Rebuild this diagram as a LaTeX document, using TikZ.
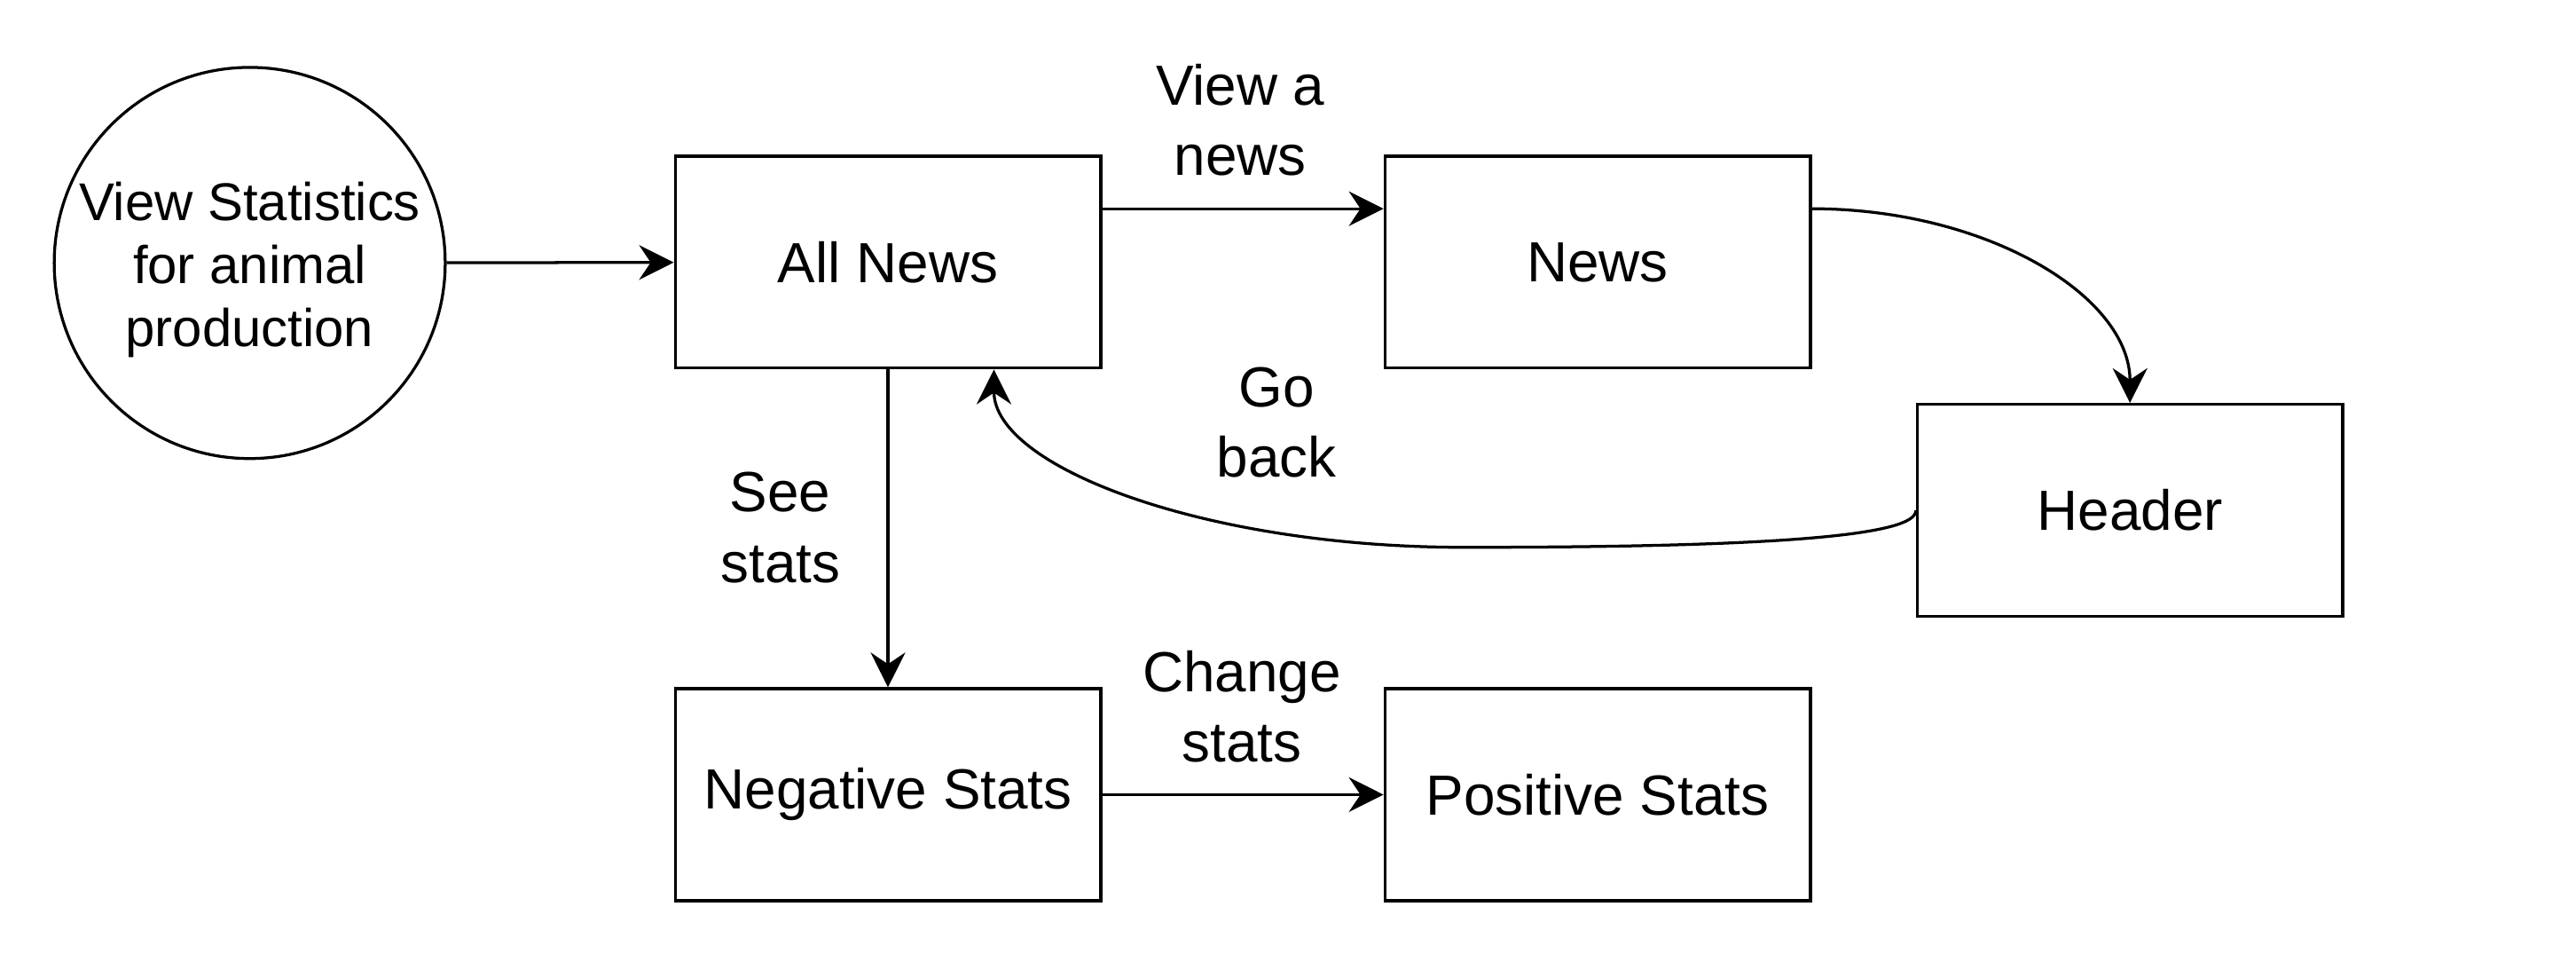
\documentclass[tikz,border=0pt]{standalone}
\usepackage{fontspec}
\setmainfont{Liberation Sans}
\usepackage{tikz}
\usetikzlibrary{positioning,arrows.meta,calc}

\begin{document}
\begin{tikzpicture}[
    every node/.style={font=\fontsize{9.8}{12.2}\selectfont},
    page/.style={draw, line width=0.5pt, minimum width=2.59cm, minimum height=1.29cm, inner sep=0pt},
    flow/.style={-{Stealth[length=6pt,width=6pt,inset=2pt]}, line width=0.5pt}
  ]
    \useasboundingbox (0,0) rectangle (15.68,5.80);
    \node[draw, circle, line width=0.5pt, minimum size=2.38cm, inner sep=0pt] (start) at (1.52,4.20) {};
    \node[align=center, font=\fontsize{9.2}{10.9}\selectfont] (starttext) at (1.52,4.16) {View Statistics\\ for animal\\ production};
    \node[page] (allnews) at (5.405,4.205) {All News};
    \node[page] (news) at (9.725,4.205) {News};
    \node[page] (header) at (12.965,2.695) {Header};
    \node[page] (negstats) at (5.405,0.965) {Negative Stats};
    \node[page] (posstats) at (9.725,0.965) {Positive Stats};

    \draw[flow] (start) -- (allnews);
    \draw[flow] ([yshift=0.325cm]allnews.east) -- ([yshift=0.325cm]news.west);
    \node[align=center] (lblview) at (7.55,5.07) {View a\\ news};
    \draw[flow] ([yshift=0.325cm]news.east) .. controls (12.09,4.53) and (12.965,4.00) .. (header.north);
    \draw[flow] (header.west) .. controls (11.67,2.54) and (10.80,2.47) .. (8.91,2.47)
        .. controls (7.33,2.47) and (6.05,2.96) .. ([xshift=0.645cm]allnews.south);
    \node[align=center] (lblback) at (7.77,3.23) {Go\\ back};
    \draw[flow] (allnews) -- (negstats);
    \node[align=center] (lblsee) at (4.75,2.59) {See\\ stats};
    \draw[flow] (negstats) -- (posstats);
    \node[align=center] (lblchange) at (7.56,1.50) {Change\\ stats};
  \end{tikzpicture}
\end{document}
